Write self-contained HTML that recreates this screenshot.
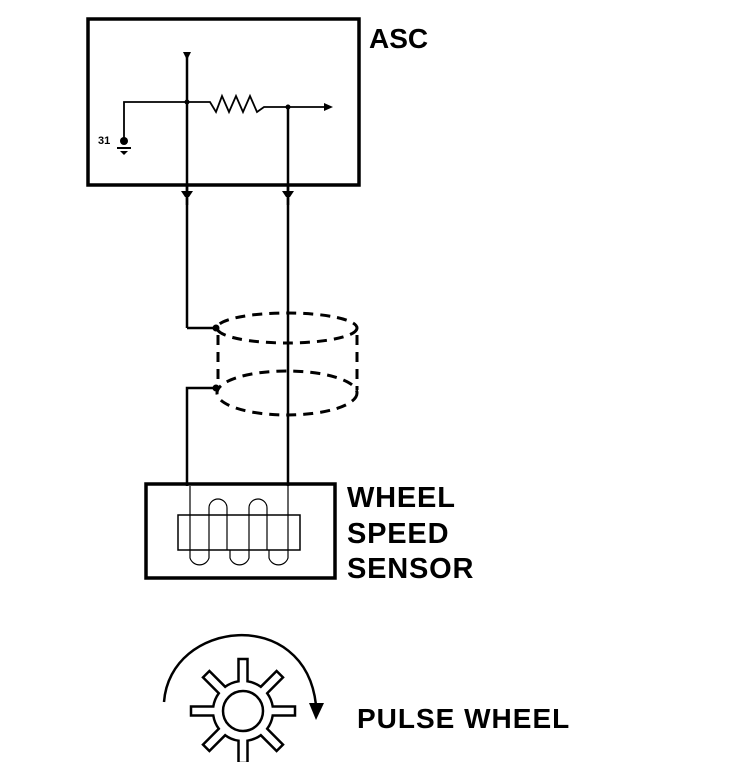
<!DOCTYPE html>
<html><head><style>
html,body{margin:0;padding:0;background:#fff;}
svg{display:block;}
text{font-family:"Liberation Sans",sans-serif;font-weight:bold;fill:#000;}
</style></head><body>
<svg width="736" height="762" viewBox="0 0 736 762" xmlns="http://www.w3.org/2000/svg">
<g fill="none" stroke="#000">
<rect x="88" y="19" width="271" height="166" stroke-width="3.5"/>
<line x1="187" y1="55" x2="187" y2="328" stroke-width="2.5"/>
<line x1="288" y1="107" x2="288" y2="486" stroke-width="2.5"/>
<polyline points="124,140 124,102 210,102 216,112 222,96 229,112 236,96 243,112 250,96 257,112 264,107 330,107" stroke-width="1.8"/>
<line x1="117" y1="148" x2="131" y2="148" stroke-width="2"/>
<polyline points="187,328 216,328" stroke-width="2.5"/>
<polyline points="216,388 187,388 187,486" stroke-width="2.5"/>
<g stroke-width="3" stroke-dasharray="10,7">
<ellipse cx="287" cy="328" rx="70" ry="15"/>
<ellipse cx="287" cy="393" rx="70" ry="22"/>
<line x1="218" y1="335" x2="218" y2="390"/>
<line x1="357" y1="335" x2="357" y2="390"/>
</g>
<rect x="146" y="484" width="189" height="94" stroke-width="3.5"/>
<rect x="178" y="515" width="122" height="35" stroke-width="1.5"/>
<g stroke-width="1.2">
<path d="M209,515 V508 a9,9 0 0 1 18,0 V515 M249,515 V508 a9,9 0 0 1 18,0 V515"/>
<path d="M190,550 V558 a10,10 0 0 0 19,0 V550 M230,550 V558 a10,10 0 0 0 19,0 V550 M269,550 V558 a10,10 0 0 0 19,0 V550"/>
<line x1="209" y1="515" x2="209" y2="550"/><line x1="227" y1="515" x2="227" y2="550"/>
<line x1="249" y1="515" x2="249" y2="550"/><line x1="267" y1="515" x2="267" y2="550"/>
<line x1="190" y1="486" x2="190" y2="550"/><line x1="288" y1="486" x2="288" y2="550"/>
</g>
<path d="M164,702 C170,620 305,605 316,705" stroke-width="2.5"/>
<circle cx="243" cy="711" r="20" stroke-width="2.5"/>
<path id="gear" stroke-width="2.5"/>
</g>
<g fill="#000">
<polygon points="183,52 191,52 187,60"/>
<polygon points="324,103 333,107 324,111"/>
<circle cx="187" cy="102" r="2.5"/>
<circle cx="288" cy="107" r="2.5"/>
<circle cx="124" cy="141" r="4"/>
<polygon points="120,151 128,151 124,155"/>
<circle cx="216" cy="328" r="3.5"/>
<circle cx="216" cy="388" r="3.5"/>
<path d="M181,191 L193,191 L189,197 L185,197 Z"/>
<path d="M282,191 L294,191 L290,197 L286,197 Z"/>
<polygon points="309,703 324,703 316,720"/>
</g>
<g stroke="#000" stroke-width="2.5">
<line x1="187" y1="185" x2="187" y2="205"/>
<line x1="288" y1="185" x2="288" y2="205"/>
</g>
<text x="98" y="144" font-size="11">31</text>
<text x="369" y="48" font-size="28">ASC</text>
<text x="347" y="507" font-size="29" letter-spacing="0.8">WHEEL</text>
<text x="347" y="543" font-size="29" letter-spacing="0.8">SPEED</text>
<text x="347" y="578" font-size="29" letter-spacing="0.8">SENSOR</text>
<text x="357" y="728" font-size="28" letter-spacing="1">PULSE WHEEL</text>
</svg>
<script>
(function(){
var cx=243,cy=711,R=30,T=52,w=4.5,n=8;
var pts=[];
for(var i=0;i<n;i++){
 var a=-Math.PI/2+i*2*Math.PI/n;
 var ca=Math.cos(a),sa=Math.sin(a),px=-sa,py=ca;
 var hb=Math.asin(w/R);
 pts.push([cx+R*Math.cos(a-hb),cy+R*Math.sin(a-hb)]);
 pts.push([cx+T*ca-w*px,cy+T*sa-w*py]);
 pts.push([cx+T*ca+w*px,cy+T*sa+w*py]);
 pts.push([cx+R*Math.cos(a+hb),cy+R*Math.sin(a+hb)]);
}
var out="";
for(var i=0;i<n;i++){
 var b=i*4;
 for(var k=0;k<4;k++){var p=pts[b+k];out+=(out===""?"M":"L")+p[0].toFixed(1)+","+p[1].toFixed(1)+" ";}
 var nx=pts[((i+1)%n)*4];
 out+="A"+R+","+R+" 0 0 1 "+nx[0].toFixed(1)+","+nx[1].toFixed(1)+" ";
}
out+="Z";
document.getElementById("gear").setAttribute("d",out);
})();
</script>
</body></html>
